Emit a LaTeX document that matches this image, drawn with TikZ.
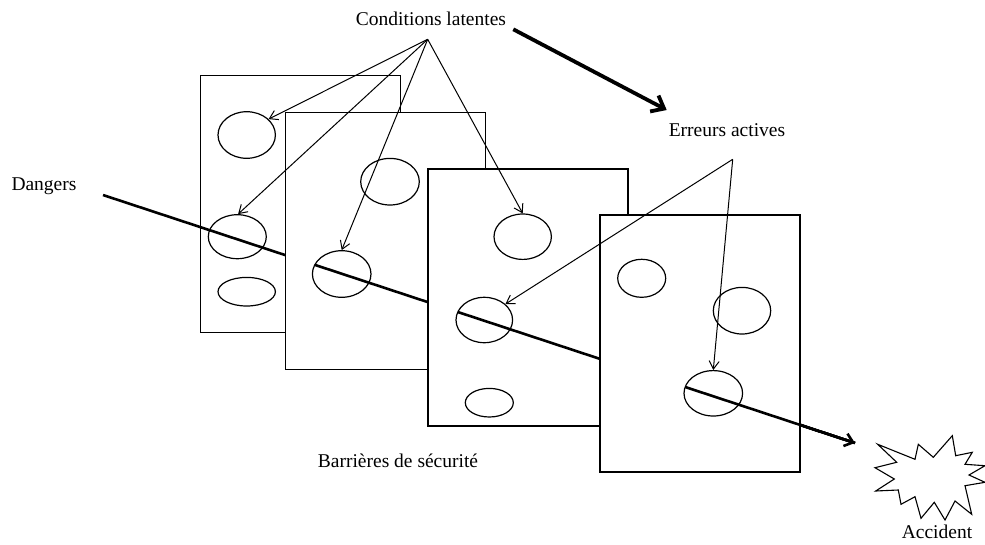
\documentclass[tikz,border=0pt]{standalone}
\usepackage{fontspec}
\setmainfont{Liberation Serif}
\usetikzlibrary{shapes.geometric, arrows.meta, calc}

\begin{document}
\begin{tikzpicture}[x=1pt, y=-1pt, >={Straight Barb[length=8pt,width=10pt]},
  slice/.style={draw, fill=white, line width=1.3pt, rectangle, anchor=north west, minimum width=200pt, minimum height=257pt, inner sep=0pt},
  hole/.style={draw, ellipse, line width=1.2pt, inner sep=0pt},
  hazard/.style={line width=2.6pt},
  pointer/.style={->, line width=1pt},
  lbl/.style={inner sep=0pt, font=\fontsize{19.5}{23}\selectfont}]
\useasboundingbox (0,0) rectangle (985,544);

\node[lbl] (cond) at (431,19) {Conditions latentes};
\node[lbl] (err) at (727,130) {Erreurs actives};
\node[lbl] (dang) at (44,186) {Dangers};
\node[lbl] (barr) at (398,461) {Barrières de sécurité};
\node[lbl] (acc) at (937,532) {Accident};

\coordinate (h0) at (103,195);
\coordinate (h9) at (855,443);
\coordinate (clfoot) at (427.7,39.3);
\coordinate (eafoot) at (732.7,159.3);
\coordinate (big0) at (513.3,29.3);
\coordinate (big1) at (666.7,110);

\node[slice] (s1) at (199.5,75) {};
\node[hole, minimum width=57.4pt, minimum height=46.6pt] (h1a) at (246.7,135) {};
\node[hole, minimum width=58pt, minimum height=44pt] (h1b) at (237.3,236.7) {};
\node[hole, minimum width=57.4pt, minimum height=28.6pt] (h1c) at (246.7,291.7) {};
\draw[hazard] (h0) -- (h9);

\node[slice] (s2) at (285,111.7) {};
\node[hole, minimum width=58.6pt, minimum height=46.6pt] (h2a) at (390,181.7) {};
\node[hole, minimum width=58.6pt, minimum height=46.6pt] (h2b) at (341.7,274) {};
\draw[hazard] ($(h0)!0.2816!(h9)$) -- (h9);

\node[slice] (s3) at (427.3,168.3) {};
\node[hole, minimum width=57.4pt, minimum height=45.4pt] (h3a) at (522.7,236.7) {};
\node[hole, minimum width=56.6pt, minimum height=45.4pt] (h3b) at (484.3,320) {};
\node[hole, minimum width=48pt, minimum height=28.6pt] (h3c) at (489.3,402.7) {};
\draw[hazard] ($(h0)!0.4718!(h9)$) -- (h9);

\node[slice] (s4) at (599.3,214.3) {};
\node[hole, minimum width=48pt, minimum height=38pt] (h4a) at (641.7,278.3) {};
\node[hole, minimum width=57.4pt, minimum height=46.6pt] (h4b) at (742,310.7) {};
\node[hole, minimum width=58.6pt, minimum height=45.4pt] (h4c) at (713.3,393.3) {};
\draw[hazard, -{Straight Barb[length=8pt,width=13pt]}] ($(h0)!0.7742!(h9)$) -- (h9);

\draw[pointer] (clfoot) -- (h1a.36);
\draw[pointer] (clfoot) -- (h1b.88);
\draw[pointer] (clfoot) -- (h2b.north);
\draw[pointer] (clfoot) -- (h3a.north);
\draw[pointer] (eafoot) -- (h3b.37);
\draw[pointer] (eafoot) -- (h4c.north);
\draw[line width=3.8pt, -{Straight Barb[length=11pt,width=18pt]}] (big0) -- (big1);

\draw[line width=1.1pt, line join=miter] (877.7,444.3) -- (915,459.3) -- (918.3,444.3) -- (933.3,457.3)
  -- (952.3,435.7) -- (955.7,455.7) -- (972.3,452.3) -- (965,464.3) -- (985,465.7)
  -- (969,475) -- (985,482.3) -- (965,485.7) -- (971.7,514.3) -- (955,501)
  -- (945,520) -- (934.3,502.3) -- (921,518.3) -- (915,496.7) -- (901,504.3)
  -- (898.3,490) -- (875.7,491) -- (894.3,479) -- (875,467.7) -- (896.7,462.3) -- cycle;
\end{tikzpicture}
\end{document}
